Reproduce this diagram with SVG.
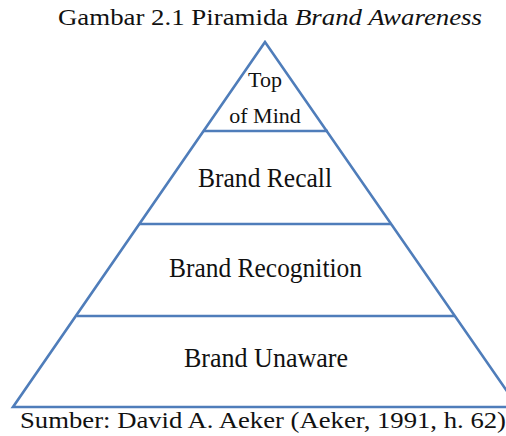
<svg xmlns="http://www.w3.org/2000/svg" width="506" height="436" viewBox="0 0 506 436">
<style>
.ln{fill:none;stroke:#4F7DBA;stroke-width:2.6;stroke-linejoin:miter}
text{font-family:'Liberation Serif','Times New Roman',Times,serif;fill:#111;text-anchor:middle}
.lab{font-size:27px}
.cap{font-size:24px;text-anchor:start}
</style>
<rect width="506" height="436" fill="#fff"/>
<text class="cap" x="58" y="25" textLength="424" lengthAdjust="spacingAndGlyphs">Gambar 2.1 Piramida <tspan font-style="italic">Brand Awareness</tspan></text>
<g id="connectors">
<polygon class="ln" points="265,42 13,407 518,407"/>
<line class="ln" x1="203" y1="131" x2="328" y2="131"/>
<line class="ln" x1="139" y1="224" x2="391" y2="224"/>
<line class="ln" x1="77" y1="316" x2="455" y2="316"/>
</g>
<g id="top-of-mind">
<text x="265" y="87" font-size="22">Top</text>
<text x="265" y="123" font-size="22">of Mind</text>
</g>
<g id="brand-recall">
<text class="lab" x="265" y="187" textLength="134" lengthAdjust="spacingAndGlyphs">Brand Recall</text>
</g>
<g id="brand-recognition">
<text class="lab" x="265.5" y="277" textLength="193" lengthAdjust="spacingAndGlyphs">Brand Recognition</text>
</g>
<g id="brand-unaware">
<text class="lab" x="266" y="367" textLength="164" lengthAdjust="spacingAndGlyphs">Brand Unaware</text>
</g>
<text class="cap" x="20" y="428" font-size="23" style="font-size:23px" textLength="486" lengthAdjust="spacingAndGlyphs">Sumber: David A. Aeker (Aeker, 1991, h. 62)</text>
</svg>
